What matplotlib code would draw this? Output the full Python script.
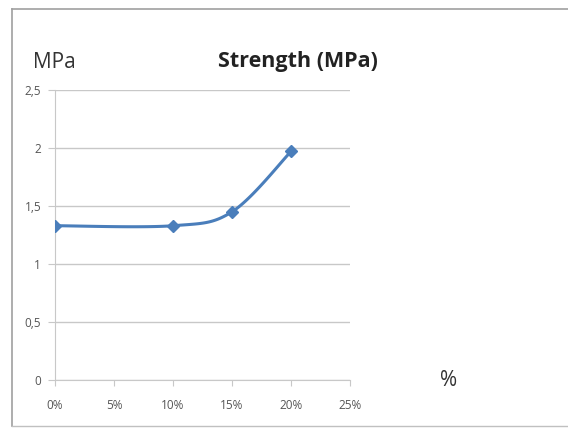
import matplotlib.pyplot as plt
import numpy as np

# data
content = [0.00, 0.10, 0.15, 0.20]
strength = [1.33, 1.33, 1.45, 1.97]
y_ticks = [0, 0.5, 1, 1.5, 2, 2.5]
y_labels = ["0", "0,5", "1", "1,5", "2", "2,5"]
x_ticks = [0, 0.05, 0.10, 0.15, 0.20, 0.25]
x_labels = ["0%", "5%", "10%", "15%", "20%", "25%"]

blue = "#4a7ebb"
grid = "#c8c8c8"


def smooth(xs, ys, n=40):
    # catmull-rom style curve through the points, like a smoothed Excel line
    xs = np.asarray(xs, float)
    ys = np.asarray(ys, float)
    px = np.concatenate([[xs[0]], xs, [xs[-1]]])
    py = np.concatenate([[ys[0]], ys, [ys[-1]]])
    ox, oy = [], []
    for i in range(1, len(px) - 2):
        p0 = np.array([px[i - 1], py[i - 1]])
        p1 = np.array([px[i], py[i]])
        p2 = np.array([px[i + 1], py[i + 1]])
        p3 = np.array([px[i + 2], py[i + 2]])
        c1 = p1 + (p2 - p0) / 6
        c2 = p2 - (p3 - p1) / 6
        t = np.linspace(0, 1, n)[:, None]
        b = ((1 - t) ** 3) * p1 + 3 * ((1 - t) ** 2) * t * c1 + 3 * (1 - t) * t ** 2 * c2 + t ** 3 * p2
        ox.extend(b[:, 0])
        oy.extend(b[:, 1])
    return ox, oy


fig = plt.figure(figsize=(5.68, 4.28), dpi=100)
plt.rcParams['font.family'] = ['Open Sans', 'DejaVu Sans']

# frame around the chart (no right edge visible)
fig.add_artist(plt.Line2D([12 / 568, 12 / 568], [2 / 428, 1 - 9 / 428], color="#a0a0a0", lw=1.2))
fig.add_artist(plt.Line2D([12 / 568, 1], [1 - 9 / 428, 1 - 9 / 428], color="#a0a0a0", lw=1.2))
fig.add_artist(plt.Line2D([12 / 568, 1], [2 / 428, 2 / 428], color="#c0c0c0", lw=1.0))

ax = fig.add_axes([55 / 568, 1 - 380 / 428, 295 / 568, 290 / 428])

sx, sy = smooth(content, strength)
ax.plot(sx, sy, color=blue, lw=2.2, zorder=3)
ax.plot(content, strength, linestyle="none", marker="D", ms=6.5, color=blue, zorder=4)

ax.set_xlim(0, 0.25)
ax.set_ylim(0, 2.5)
ax.set_xticks(x_ticks)
ax.set_xticklabels(x_labels, fontsize=8.5, color="#555555")
ax.set_yticks(y_ticks)
ax.set_yticklabels(y_labels, fontsize=8.5, color="#555555")
ax.yaxis.grid(True, color=grid, lw=1)
ax.set_axisbelow(True)

for s in ["top", "right"]:
    ax.spines[s].set_visible(False)
ax.spines["left"].set_color(grid)
ax.spines["bottom"].set_color(grid)
ax.tick_params(axis="x", length=4, color=grid, pad=10)
ax.tick_params(axis="y", length=5, color=grid, pad=5)

fig.text(33 / 568, 1 - 62 / 428, "MPa", fontsize=15, color="#333333", va="center")
fig.text(298 / 568, 1 - 62 / 428, "Strength (MPa)", fontsize=15.5, fontweight="bold",
         color="#222222", ha="center", va="center")
fig.text(449 / 568, 1 - 381 / 428, "%", fontsize=15, color="#333333", ha="center", va="center")

fig.savefig("out.png", dpi=100)
